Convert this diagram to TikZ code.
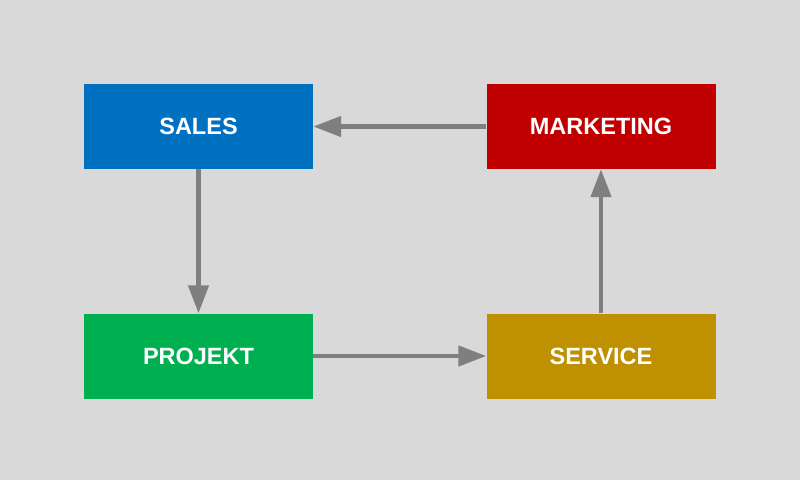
\documentclass[tikz,border=0pt]{standalone}
\usepackage{fontspec}
\setmainfont{Liberation Sans}
\usetikzlibrary{arrows.meta}
\definecolor{bg}{HTML}{D9D9D9}
\definecolor{cSales}{HTML}{0070C0}
\definecolor{cMark}{HTML}{C00000}
\definecolor{cProj}{HTML}{00B050}
\definecolor{cServ}{HTML}{BF9000}
\definecolor{arr}{HTML}{7F7F7F}
\tikzset{
  box/.style={minimum width=229pt, minimum height=85pt, inner sep=0pt, text=white,
    font=\fontsize{23.5}{28}\selectfont\bfseries},
  conn/.style={draw=arr, line width=4.5pt, -{Triangle[length=28pt,width=20pt]}}
}
\begin{document}
\begin{tikzpicture}[x=1pt,y=-1pt]
\fill[bg] (0,0) rectangle (800,480);
\useasboundingbox (0,0) rectangle (800,480);
\node[box, fill=cSales] (sales) at (198.5,126.5) {SALES};
\node[box, fill=cMark] (mark) at (601,126.5) {MARKETING};
\node[box, fill=cProj] (proj) at (198.5,356) {PROJEKT};
\node[box, fill=cServ] (serv) at (601,356) {SERVICE};
\draw[conn] (mark.west) -- (sales.east);
\draw[conn] (sales.south) -- (proj.north);
\draw[conn] (proj.east) -- (serv.west);
\draw[conn] (serv.north) -- (mark.south);
\end{tikzpicture}
\end{document}
